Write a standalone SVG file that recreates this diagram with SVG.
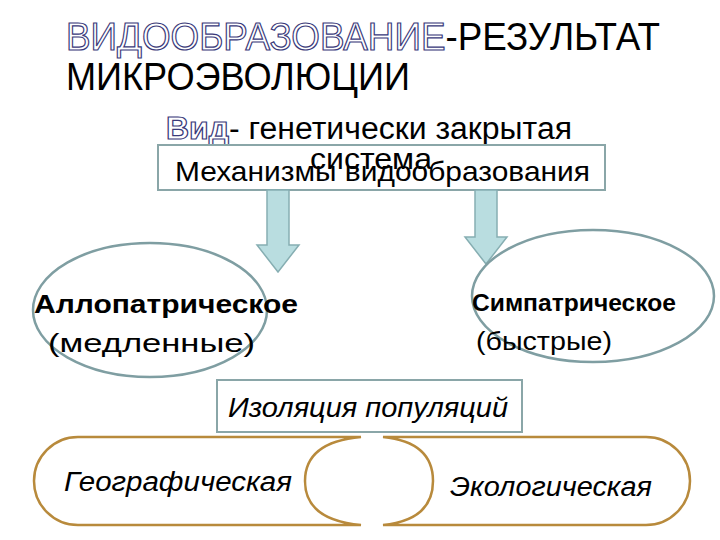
<svg xmlns="http://www.w3.org/2000/svg" width="720" height="540" viewBox="0 0 720 540">
<style>
text{font-family:"Liberation Sans",Arial,sans-serif;fill:#000}
.ol{fill:#fff;stroke:#3a3a7a;stroke-width:1.2}
.box{fill:#fff;stroke:#8aa6a8;stroke-width:2}
.ell{fill:#fff;stroke:#7f9ea2;stroke-width:2.5}
.arr{fill:#b9dde0;stroke:#86aeb2;stroke-width:1.5}
.cap{fill:#fff;stroke:#b88a3c;stroke-width:2.5}
</style>
<rect width="720" height="540" fill="#fff"/>
<g id="title">
<text x="66" y="50" font-size="38" textLength="594" lengthAdjust="spacingAndGlyphs"><tspan class="ol">ВИДООБРАЗОВАНИЕ</tspan>-РЕЗУЛЬТАТ</text>
<text x="66" y="90" font-size="38" textLength="344" lengthAdjust="spacingAndGlyphs">МИКРОЭВОЛЮЦИИ</text>
<text x="166" y="139" font-size="31" textLength="406" lengthAdjust="spacingAndGlyphs"><tspan class="ol" font-weight="bold">Вид</tspan>- генетически закрытая</text>
</g>
<g id="mech">
<rect class="box" x="158" y="145" width="447" height="45"/>
<text x="310" y="169" font-size="29" textLength="122" lengthAdjust="spacingAndGlyphs">система</text>
<text x="175" y="181" font-size="28" textLength="415" lengthAdjust="spacingAndGlyphs">Механизмы видообразования</text>
</g>
<g id="connectors">
<path class="arr" d="M267 190h22v55h10l-21 27l-21-27h10z"/>
<path class="arr" d="M475 190h22v47h10l-21 27l-21-27h10z"/>
</g>
<g id="allo">
<ellipse class="ell" cx="150" cy="310" rx="117" ry="67"/>
<text x="34" y="313" font-size="26" font-weight="bold" textLength="264" lengthAdjust="spacingAndGlyphs">Аллопатрическое</text>
<text x="48" y="352" font-size="26" textLength="207" lengthAdjust="spacingAndGlyphs">(медленные)</text>
</g>
<g id="sym">
<ellipse class="ell" cx="593" cy="296" rx="121" ry="66"/>
<text x="472" y="311" font-size="24" font-weight="bold" textLength="204" lengthAdjust="spacingAndGlyphs">Симпатрическое</text>
<text x="476" y="350" font-size="26" textLength="136" lengthAdjust="spacingAndGlyphs">(быстрые)</text>
</g>
<g id="iso">
<rect class="box" x="217" y="380" width="305" height="52"/>
<text x="228" y="417" font-size="28" font-style="italic" textLength="280" lengthAdjust="spacingAndGlyphs">Изоляция популяций</text>
</g>
<g id="geo">
<path class="cap" d="M361 437H78A44 44 0 0 0 78 525H361Q305 520 305 481Q305 442 361 437z"/>
<text x="64" y="491" font-size="27" font-style="italic" textLength="228" lengthAdjust="spacingAndGlyphs">Географическая</text>
</g>
<g id="eco">
<path class="cap" d="M383 437H646A44 44 0 0 1 646 525H383Q433 520 433 481Q433 442 383 437z"/>
<text x="450" y="496" font-size="27" font-style="italic" textLength="202" lengthAdjust="spacingAndGlyphs">Экологическая</text>
</g>
</svg>
